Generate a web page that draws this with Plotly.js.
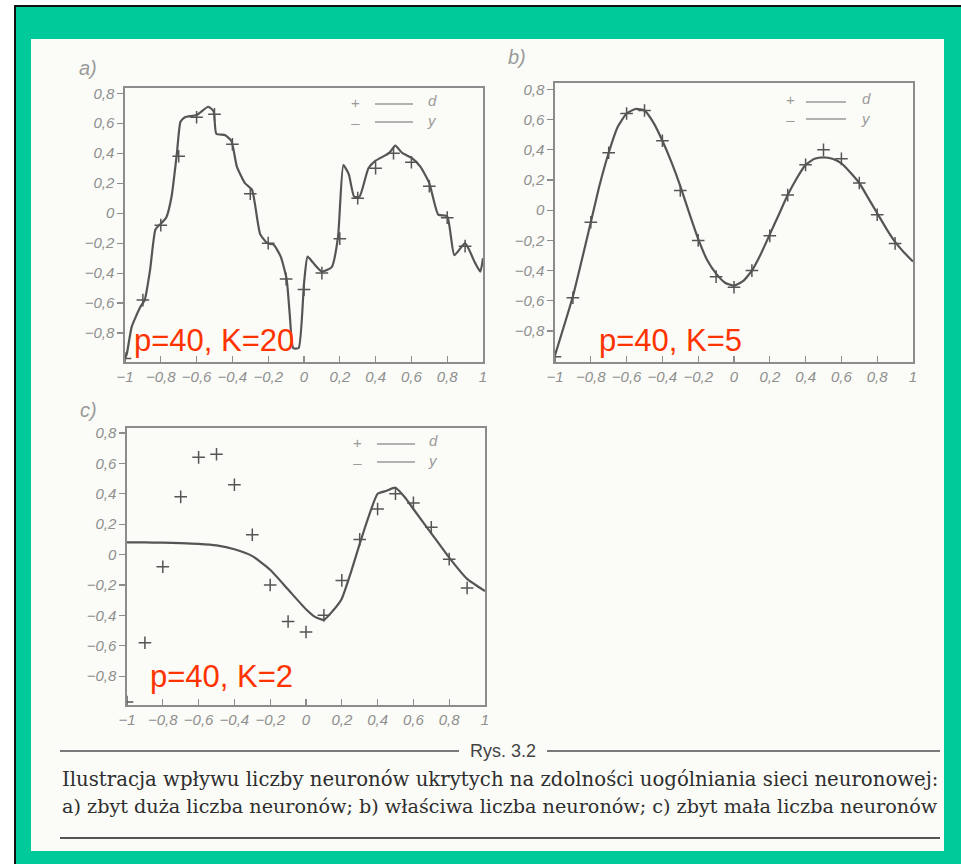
<!DOCTYPE html>
<html>
<head>
<meta charset="utf-8">
<script src="https://cdn.plot.ly/plotly-3.0.1.min.js"></script>
<style>html,body{margin:0;padding:0;background:#fff;}#chart{width:961px;height:864px;}</style>
</head>
<body>
<div id="chart"></div>
<script>
// ---- data ----
const dX = [-1, -0.9, -0.8, -0.7, -0.6, -0.5, -0.4, -0.3, -0.2, -0.1, 0, 0.1, 0.2, 0.3, 0.4, 0.5, 0.6, 0.7, 0.8, 0.9];
const dY = [-0.97, -0.58, -0.08, 0.38, 0.64, 0.66, 0.46, 0.13, -0.20, -0.44, -0.51, -0.40, -0.17, 0.10, 0.30, 0.40, 0.34, 0.18, -0.03, -0.22];

// a) K=20 (overfitted)
const aX = [-1, -0.99, -0.963, -0.916, -0.89, -0.86, -0.83, -0.80, -0.77, -0.74, -0.71, -0.69, -0.665, -0.60, -0.535, -0.505, -0.49, -0.44, -0.405, -0.375, -0.33, -0.29, -0.245, -0.205, -0.17, -0.13, -0.097, -0.08, -0.06, -0.03, 0, 0.02, 0.05, 0.10, 0.155, 0.19, 0.22, 0.25, 0.28, 0.31, 0.36, 0.40, 0.475, 0.51, 0.55, 0.60, 0.65, 0.70, 0.75, 0.80, 0.84, 0.90, 0.955, 0.985, 1.0];
const aY = [-0.97, -0.94, -0.76, -0.63, -0.58, -0.38, -0.11, -0.07, -0.03, 0.11, 0.40, 0.61, 0.64, 0.655, 0.71, 0.68, 0.53, 0.52, 0.48, 0.31, 0.20, 0.155, -0.14, -0.20, -0.21, -0.29, -0.44, -0.67, -0.90, -0.90, -0.47, -0.29, -0.33, -0.39, -0.36, -0.16, 0.32, 0.26, 0.11, 0.11, 0.30, 0.35, 0.40, 0.45, 0.40, 0.37, 0.31, 0.20, -0.01, -0.02, -0.28, -0.20, -0.33, -0.39, -0.30];

// b) K=5 (proper)
const bX = [-1, -0.9, -0.8, -0.75, -0.7, -0.65, -0.6, -0.55, -0.5, -0.45, -0.4, -0.35, -0.3, -0.25, -0.2, -0.15, -0.1, -0.05, 0, 0.05, 0.1, 0.15, 0.2, 0.25, 0.3, 0.35, 0.4, 0.45, 0.5, 0.55, 0.6, 0.65, 0.7, 0.75, 0.8, 0.85, 0.9, 0.95, 1];
const bY = [-0.96, -0.57, -0.08, 0.17, 0.38, 0.55, 0.64, 0.67, 0.66, 0.58, 0.46, 0.32, 0.16, -0.02, -0.19, -0.33, -0.42, -0.48, -0.50, -0.47, -0.40, -0.29, -0.16, -0.03, 0.10, 0.21, 0.30, 0.34, 0.35, 0.34, 0.31, 0.25, 0.18, 0.08, -0.02, -0.12, -0.21, -0.28, -0.34];

// c) K=2 (too few)
const cX = [-1, -0.9, -0.8, -0.7, -0.6, -0.5, -0.4, -0.3, -0.2, -0.1, 0, 0.05, 0.1, 0.15, 0.2, 0.25, 0.3, 0.35, 0.4, 0.45, 0.5, 0.55, 0.6, 0.7, 0.8, 0.9, 1];
const cY = [0.08, 0.08, 0.078, 0.075, 0.07, 0.06, 0.035, -0.01, -0.10, -0.23, -0.36, -0.41, -0.43, -0.37, -0.29, -0.12, 0.07, 0.25, 0.40, 0.42, 0.44, 0.38, 0.30, 0.14, -0.02, -0.16, -0.24];

const xTickVals = [-1, -0.8, -0.6, -0.4, -0.2, 0, 0.2, 0.4, 0.6, 0.8, 1];
const xTickText = ['\u22121', '\u22120,8', '\u22120,6', '\u22120,4', '\u22120,2', '0', '0,2', '0,4', '0,6', '0,8', '1'];
const yTickVals = [-0.8, -0.6, -0.4, -0.2, 0, 0.2, 0.4, 0.6, 0.8];
const yTickText = ['\u22120,8', '\u22120,6', '\u22120,4', '\u22120,2', '0', '0,2', '0,4', '0,6', '0,8'];

const panelLabels = ['a)', 'b)', 'c)'];
const paramLabels = ['p=40, K=20', 'p=40, K=5', 'p=40, K=2'];
const legendSymbols = '+<br>\u2013';
const legendNames = '<i>d</i><br><i>y</i>';
const captionTitle = 'Rys. 3.2';
const captionLine1 = 'Ilustracja wpływu liczby neuronów ukrytych na zdolności uogólniania sieci neuronowej:';
const captionLine2 = 'a) zbyt duża liczba neuronów; b) właściwa liczba neuronów; c) zbyt mała liczba neuronów';

// ---- layout helpers ----
const W = 961, H = 864;
const X = px => px / W;
const Y = py => 1 - py / H;

const lineCol = '#555555';
const markerCol = '#555555';
const frameCol = '#8c8c8c';
const tickCol = '#8c8c8c';

function mkTraces(xs, ys, ax) {
  return [
    {x: xs, y: ys, xaxis: 'x' + ax, yaxis: 'y' + ax, mode: 'lines', type: 'scatter',
     line: {color: lineCol, width: 2.2, shape: 'spline', smoothing: 0.5}, showlegend: false, hoverinfo: 'skip'},
    {x: dX, y: dY, xaxis: 'x' + ax, yaxis: 'y' + ax, mode: 'markers', type: 'scatter',
     marker: {symbol: 'cross-thin', size: 9, line: {color: markerCol, width: 1.5}, color: markerCol},
     showlegend: false, hoverinfo: 'skip'}
  ];
}

const traces = [].concat(
  mkTraces(aX, aY, ''),
  mkTraces(bX, bY, '2'),
  mkTraces(cX, cY, '3')
);

const tickFont = {family: 'Liberation Sans, Arial, sans-serif', size: 15, color: '#8f8f8f', style: 'italic'};

function xAx(l, r, anchor) {
  return {domain: [X(l), X(r)], range: [-1, 1], anchor: anchor,
    tickvals: xTickVals, ticktext: xTickText, ticks: 'inside', ticklen: 6, tickwidth: 1.2, tickcolor: tickCol,
    showline: true, mirror: true, linecolor: frameCol, linewidth: 1.6, showgrid: false, zeroline: false,
    tickfont: tickFont, fixedrange: true};
}
function yAx(t, b, lo, hi, anchor) {
  return {domain: [Y(b), Y(t)], range: [lo, hi], anchor: anchor,
    tickvals: yTickVals, ticktext: yTickText, ticks: 'outside', ticklen: 6, tickwidth: 1.2, tickcolor: tickCol,
    showline: true, mirror: true, linecolor: frameCol, linewidth: 1.6, showgrid: false, zeroline: false,
    tickfont: tickFont, fixedrange: true};
}

const shapes = [
  {type: 'rect', xref: 'paper', yref: 'paper', x0: X(15), x1: X(961), y0: Y(864), y1: Y(6), fillcolor: '#00C99A', line: {width: 0}, layer: 'below'},
  {type: 'line', xref: 'paper', yref: 'paper', x0: X(14), x1: X(961), y0: Y(6), y1: Y(6), line: {color: '#111', width: 2}, layer: 'below'},
  {type: 'line', xref: 'paper', yref: 'paper', x0: X(15), x1: X(15), y0: Y(5), y1: Y(864), line: {color: '#111', width: 2}, layer: 'below'},
  {type: 'rect', xref: 'paper', yref: 'paper', x0: X(31), x1: X(944), y0: Y(851), y1: Y(39), fillcolor: '#FBFCF7', line: {width: 0}, layer: 'below'},
  {type: 'line', xref: 'paper', yref: 'paper', x0: X(60), x1: X(459), y0: Y(751), y1: Y(751), line: {color: '#7a7a7a', width: 2}, layer: 'below'},
  {type: 'line', xref: 'paper', yref: 'paper', x0: X(547), x1: X(940), y0: Y(751), y1: Y(751), line: {color: '#7a7a7a', width: 2}, layer: 'below'},
  {type: 'line', xref: 'paper', yref: 'paper', x0: X(60), x1: X(940), y0: Y(838), y1: Y(838), line: {color: '#555', width: 2}, layer: 'below'}
];

const legendPos = [
  {plus: 355, l0: 375, l1: 413, t: 425, r1: 103, r2: 121},
  {plus: 790, l0: 806, l1: 846, t: 859, r1: 101, r2: 118},
  {plus: 357, l0: 377, l1: 415, t: 426, r1: 443, r2: 461}
];
const legCol = '#9a9a9a';
const annotations = [];
legendPos.forEach(p => {
  shapes.push({type: 'line', xref: 'paper', yref: 'paper', x0: X(p.l0), x1: X(p.l1), y0: Y(p.r1 + 1), y1: Y(p.r1 + 1), line: {color: legCol, width: 1.5}});
  shapes.push({type: 'line', xref: 'paper', yref: 'paper', x0: X(p.l0), x1: X(p.l1), y0: Y(p.r2 + 1), y1: Y(p.r2 + 1), line: {color: legCol, width: 1.5}});
  const mid = (p.r1 + p.r2) / 2;
  annotations.push({xref: 'paper', yref: 'paper', x: X(p.plus), y: Y(mid), text: legendSymbols, showarrow: false, xanchor: 'center', yanchor: 'middle',
    align: 'center', font: {family: 'Liberation Sans, Arial, sans-serif', size: 15, color: legCol}});
  annotations.push({xref: 'paper', yref: 'paper', x: X(p.t), y: Y(mid - 1), text: legendNames, showarrow: false, xanchor: 'left', yanchor: 'middle',
    align: 'left', font: {family: 'Liberation Sans, Arial, sans-serif', size: 15, color: legCol}});
});

[[88, 68], [517, 57], [88, 410]].forEach((pt, i) => {
  annotations.push({xref: 'paper', yref: 'paper', x: X(pt[0]), y: Y(pt[1]), text: panelLabels[i], showarrow: false,
    xanchor: 'center', yanchor: 'middle', font: {family: 'Liberation Sans, Arial, sans-serif', size: 20, color: '#9a9a9a', style: 'italic'}});
});

[[132, 340], [597, 340], [148, 676]].forEach((pt, i) => {
  annotations.push({xref: 'paper', yref: 'paper', x: X(pt[0]), y: Y(pt[1]), text: paramLabels[i], showarrow: false,
    xanchor: 'left', yanchor: 'middle', font: {family: 'Liberation Sans, Arial, sans-serif', size: 31, color: '#FF3300'}});
});

annotations.push({xref: 'paper', yref: 'paper', x: X(503), y: Y(751), text: captionTitle, showarrow: false, xanchor: 'center', yanchor: 'middle',
  font: {family: 'Liberation Sans Narrow, Liberation Sans, Arial, sans-serif', size: 18, color: '#444'}});
annotations.push({xref: 'paper', yref: 'paper', x: X(60), y: Y(779), text: captionLine1, showarrow: false, xanchor: 'left', yanchor: 'middle',
  font: {family: 'DejaVu Serif, serif', size: 19.7, color: '#2e2e2e'}});
annotations.push({xref: 'paper', yref: 'paper', x: X(60), y: Y(806), text: captionLine2, showarrow: false, xanchor: 'left', yanchor: 'middle',
  font: {family: 'DejaVu Serif, serif', size: 19.2, color: '#2e2e2e'}});

const layout = {
  width: W, height: H,
  margin: {l: 0, r: 0, t: 0, b: 0},
  paper_bgcolor: '#ffffff',
  plot_bgcolor: 'rgba(0,0,0,0)',
  showlegend: false,
  xaxis: xAx(125, 483, 'y'),
  yaxis: yAx(88, 362, -0.993, 0.835, 'x'),
  xaxis2: xAx(555, 913, 'y2'),
  yaxis2: yAx(83, 362, -1.005, 0.842, 'x2'),
  xaxis3: xAx(127, 485, 'y3'),
  yaxis3: yAx(428, 705, -0.99, 0.833, 'x3'),
  shapes: shapes,
  annotations: annotations
};

Plotly.newPlot('chart', traces, layout, {displayModeBar: false, staticPlot: true});
</script>
</body>
</html>
